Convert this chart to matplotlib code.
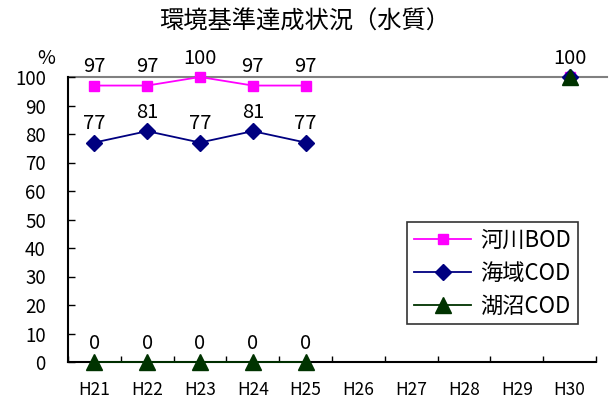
import numpy as np
import matplotlib
matplotlib.use("Agg")
import matplotlib.pyplot as plt

plt.rcParams['font.family'] = ['Noto Sans CJK JP', 'DejaVu Sans']

years = ["H21", "H22", "H23", "H24", "H25", "H26", "H27", "H28", "H29", "H30"]
kasen_bod = [97, 97, 100, 97, 97, np.nan, np.nan, np.nan, np.nan, 100]
kaiiki_cod = [77, 81, 77, 81, 77, np.nan, np.nan, np.nan, np.nan, 100]
koshou_cod = [0, 0, 0, 0, 0, np.nan, np.nan, np.nan, np.nan, 100]

fig = plt.figure(figsize=(6.09, 4.0), dpi=100)
ax = fig.add_axes([68 / 609, 1 - 362 / 400, (596 - 68) / 609, (362 - 77) / 400])

x = np.arange(len(years))
ax.plot(x, kasen_bod, color="#ff00ff", marker="s", markersize=7.5, lw=1.3, label="河川BOD", zorder=3)
ax.plot(x, kaiiki_cod, color="#000080", marker="D", markersize=8, lw=1.3, label="海域COD", zorder=4)
ax.plot(x, koshou_cod, color="#003300", marker="^", markersize=12, lw=1.3, label="湖沼COD", zorder=5)

# data labels (identical labels at the same spot are drawn once)
drawn = set()
for series in [kasen_bod, kaiiki_cod, koshou_cod]:
    for xi, v in zip(x, series):
        if np.isnan(v) or (xi, v) in drawn:
            continue
        drawn.add((xi, v))
        ax.annotate(f"{v:.0f}", (xi, v), xytext=(0, 6), textcoords="offset points",
                    ha="center", va="bottom", fontsize=14.5)

ax.axhline(100, xmax=1.02, color="#808080", lw=1.5, zorder=1, clip_on=False)

ax.set_xlim(-0.5, len(years) - 0.5)
ax.set_ylim(0, 100)
ax.set_yticks(range(0, 101, 10))
ax.set_xticks(x)
ax.set_xticklabels(years)
ax.set_xticks(np.arange(-0.5, len(years), 1), minor=True)
ax.tick_params(axis="x", which="major", length=0, pad=14, labelsize=12.5)
ax.tick_params(axis="x", which="minor", direction="in", length=4, width=1)
ax.tick_params(axis="y", direction="in", length=5, width=1, labelsize=13.5, pad=16)

for s in ["top", "right"]:
    ax.spines[s].set_visible(False)
for s in ["left", "bottom"]:
    ax.spines[s].set_linewidth(1.5)
for ln in ax.lines:
    ln.set_clip_on(False)

fig.text(46 / 609, 1 - 58 / 400, "%", ha="center", va="center", fontsize=14)
fig.text(305 / 609, 1 - 22 / 400, "環境基準達成状況（水質）", ha="center", va="center", fontsize=17.5)

leg = ax.legend(loc="upper left", bbox_to_anchor=(0.642, 0.491), fontsize=16,
                frameon=True, fancybox=False, edgecolor="black", handlelength=2.6,
                borderpad=0.3, labelspacing=0.45, handletextpad=0.4, borderaxespad=0)
leg.get_frame().set_linewidth(1.2)

fig.savefig("out.png", dpi=100)
